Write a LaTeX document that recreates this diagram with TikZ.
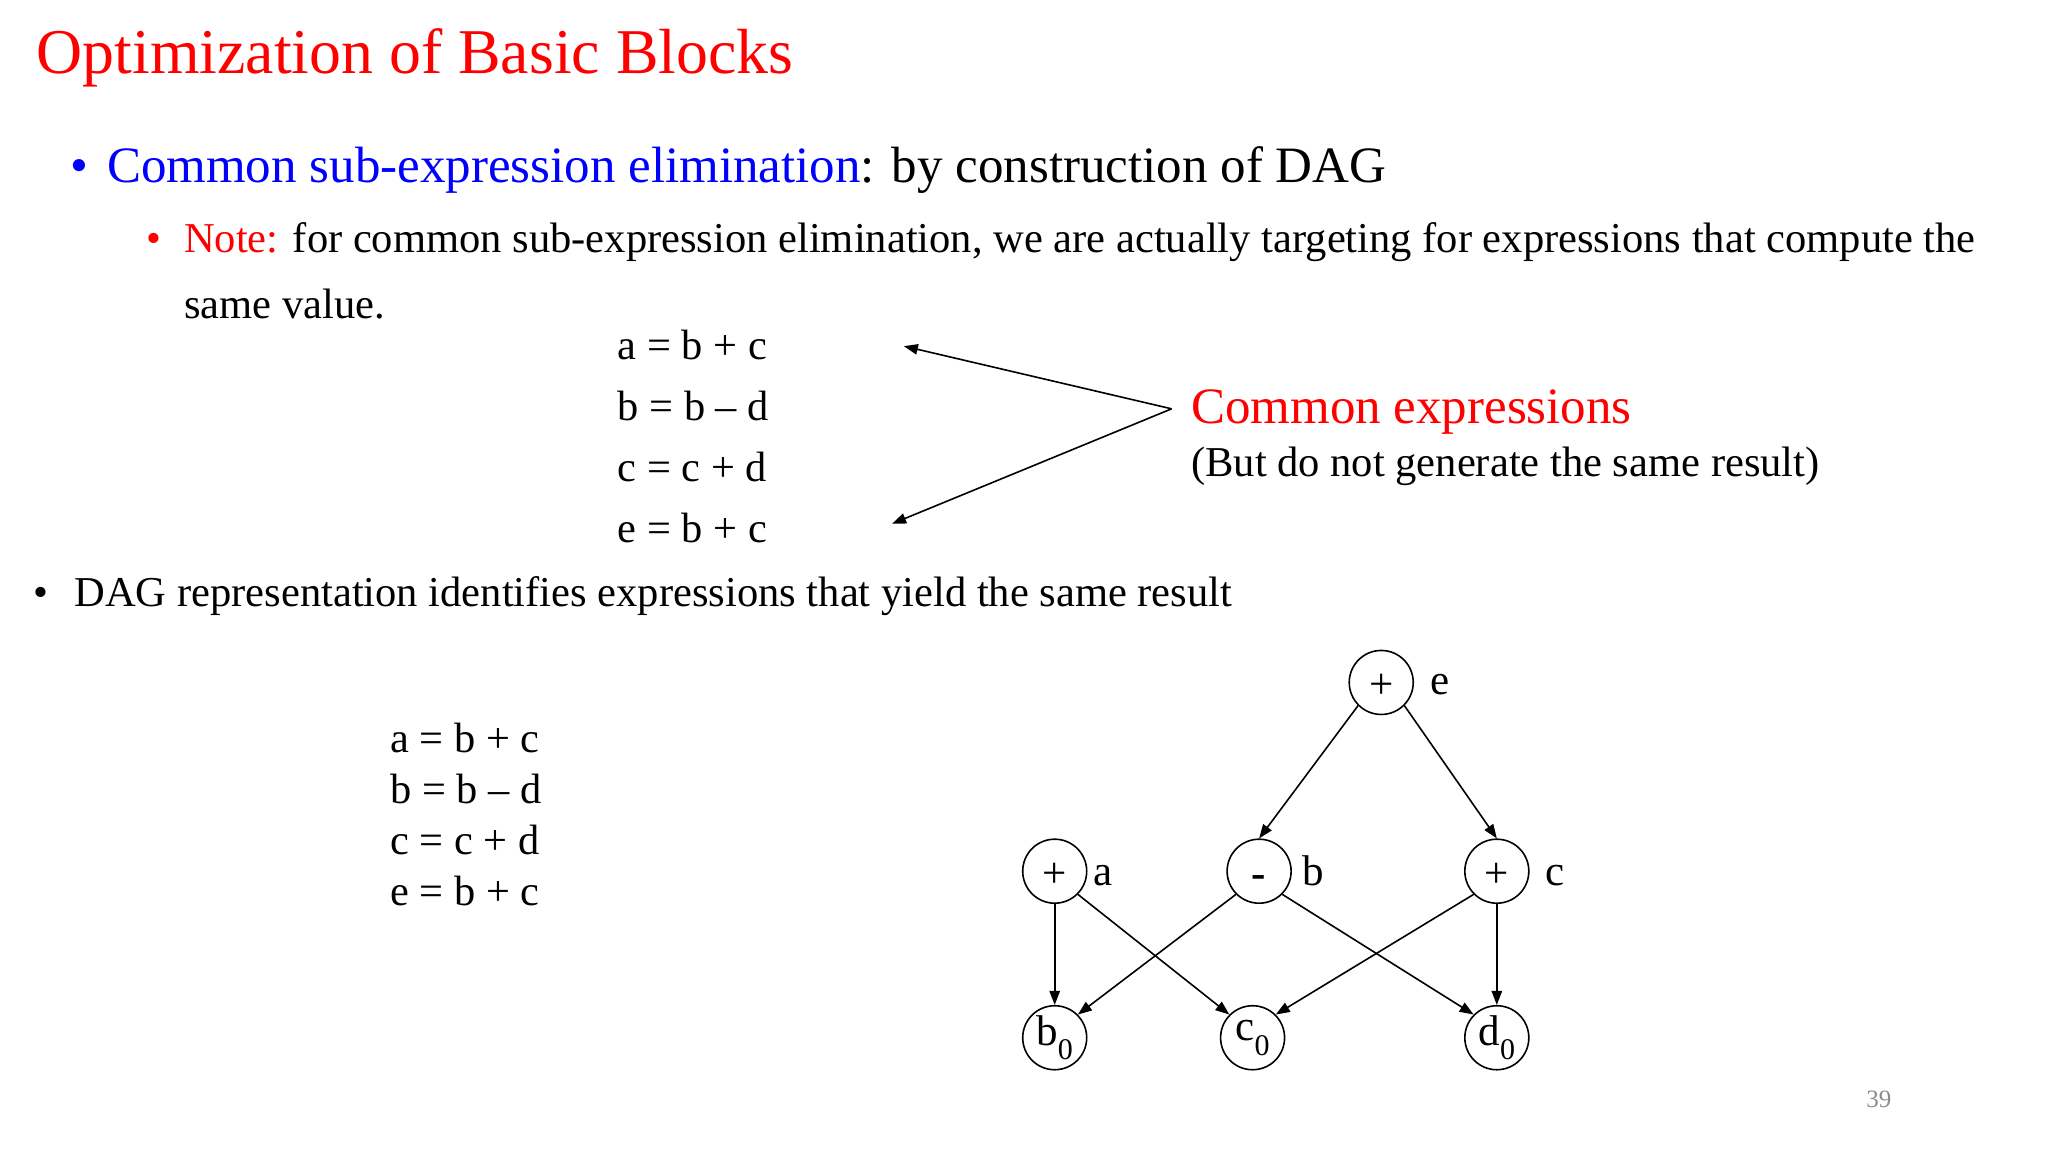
\documentclass[tikz,border=0pt]{standalone}
\usepackage{fontspec}
\setmainfont{Liberation Serif}
\usetikzlibrary{arrows.meta}
\definecolor{slred}{RGB}{255,0,0}
\definecolor{slblue}{RGB}{0,0,255}
\definecolor{pgnum}{RGB}{140,140,140}
\begin{document}
\begin{tikzpicture}[x=0.65306pt,y=-0.65306pt,
  txt/.style={anchor=base west,inner sep=0pt,outer sep=0pt},
  ttl/.style={txt,font=\fontsize{31.9}{38}\selectfont,text=slred},
  lone/.style={txt,font=\fontsize{25.5}{31}\selectfont},
  ltwo/.style={txt,font=\fontsize{21.27}{26}\selectfont},
  code/.style={txt,font=\fontsize{21.2}{26}\selectfont},
  vtx/.style={circle,draw,line width=0.8pt,minimum size=32pt,inner sep=0pt,font=\fontsize{21.5}{26}\selectfont},
  opv/.style={vtx,text height=17pt,text depth=1pt},
  vlab/.style={txt,font=\fontsize{21.5}{26}\selectfont},
  arr/.style={line width=0.8pt,-{Triangle[length=7pt,width=5.2pt]}},
  pnum/.style={txt,font=\fontsize{12.5}{15}\selectfont,text=pgnum}
]
\useasboundingbox[fill=white] (0,0) rectangle (1568,882);

% title
\node[ttl] (title) at (28,56) {Optimization of Basic Blocks};

% first bullet
\node[lone,text=slblue] (bul1) at (54,140) {•};
\node[lone] (line1) at (82,140) {\textcolor{slblue}{Common sub-expression elimination}: by construction of DAG};

% sub bullet
\node[ltwo,text=slred] (bul2) at (112,193.5) {•};
\node[ltwo] (line2) at (141,193.5) {\textcolor{slred}{Note:} for common sub-expression elimination, we are actually targeting for expressions that compute the};
\node[ltwo] (line3) at (141,244) {same value.};

% code block 1
\node[code] (ca1) at (473,275) {a = b + c};
\node[code] (ca2) at (473,321.8) {b = b – d};
\node[code] (ca3) at (473,368.5) {c = c + d};
\node[code] (ca4) at (473,415.3) {e = b + c};

\coordinate (vx) at (897,313);
\coordinate (t1) at (692,265);
\coordinate (t2) at (683,401);
\draw[arr] (vx) -- (t1);
\draw[arr] (vx) -- (t2);

\node[lone,text=slred] (ce) at (912,324) {Common expressions};
\node[ltwo] (ns) at (912,364.5) {(But do not generate the same result)};

% second bullet
\node[ltwo] (bul3) at (26,464.5) {•};
\node[ltwo] (line4) at (57,464.5) {DAG representation identifies expressions that yield the same result};

% code block 2
\node[code] (cb1) at (299,576.5) {a = b + c};
\node[code] (cb2) at (299,615.5) {b = b – d};
\node[code] (cb3) at (299,654.5) {c = c + d};
\node[code] (cb4) at (299,693.5) {e = b + c};

% DAG
\node[opv] (e) at (1057.5,522.5) {+};
\node[opv] (a) at (807.5,667) {+};
\node[opv] (b) at (964,667) {\textbf{-}};
\node[opv] (c) at (1146,667) {+};
\node[vtx] (b0) at (807.5,794.5) {b\raisebox{-0.34em}{\fontsize{15}{17}\selectfont 0}};
\node[vtx] (c0) at (959,794.5) {c\raisebox{-0.34em}{\fontsize{15}{17}\selectfont 0}};
\node[vtx] (d0) at (1146,794.5) {d\raisebox{-0.34em}{\fontsize{15}{17}\selectfont 0}};

\node[vlab] (le) at (1095,532) {e};
\node[vlab] (la) at (837,678) {a};
\node[vlab] (lb) at (997,678) {b};
\node[vlab] (lc) at (1183,678) {c};

\draw[arr] (e.225) -- (b.north);
\draw[arr] (e.-45) -- (c.north);
\draw[arr] (a.south) -- (b0.north);
\draw[arr] (a.-45) -- (c0.135);
\draw[arr] (b.225) -- (b0.45);
\draw[arr] (b.-45) -- (d0.135);
\draw[arr] (c.225) -- (c0.45);
\draw[arr] (c.south) -- (d0.north);

\node[pnum] (pg) at (1429,848) {39};
\end{tikzpicture}
\end{document}
